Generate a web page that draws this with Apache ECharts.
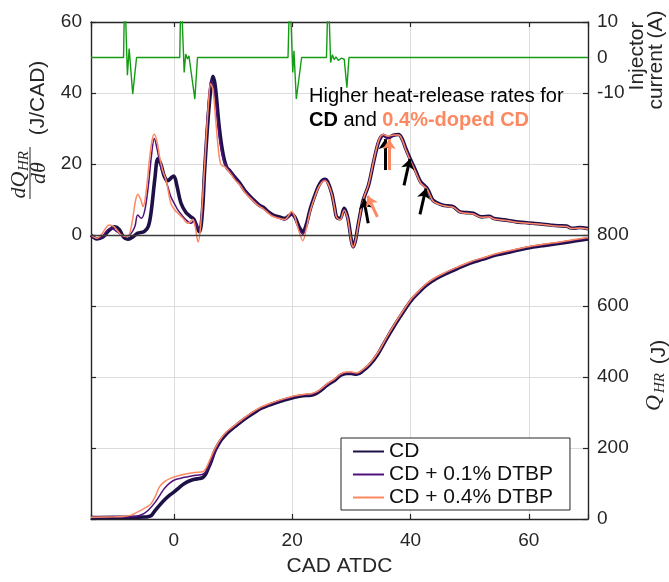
<!DOCTYPE html>
<html>
<head>
<meta charset="utf-8">
<title>Heat release and injector current</title>
<script src="https://cdn.jsdelivr.net/npm/echarts@6/dist/echarts.min.js"></script>
<style>
  html, body { margin: 0; padding: 0; background: #fff; }
  #chart { width: 669px; height: 582px; }
</style>
</head>
<body>
<div id="chart"></div>
<script>
// ---- Heat-release rate dQ/dθ (J/CAD) vs crank angle ----
const cadHrrCD = [-14, -13, -12, -11, -10, -9.2, -8.5, -7.8, -7, -6.1, -5, -4.3, -3.8, -3.2, -2.7, -2.2, -1.6, -1.0, -0.4, 0.0, 0.5, 1.2, 2.0, 2.8, 3.4, 4.3, 4.8, 5.2, 5.8, 6.3, 6.6, 7.0, 7.7, 8.3, 8.9, 9.5, 10.3, 11.2, 12.0, 13.4, 14.5, 15.1, 16.0, 16.8, 18.0, 18.8, 19.5, 19.9, 20.4, 20.7, 21.2, 21.8, 22.4, 23.0, 23.8, 24.4, 25.0, 25.5, 26.0, 26.7, 27.2, 27.5, 28.1, 28.8, 29.3, 29.6, 30.0, 30.3, 30.7, 31.2, 32.0, 32.9, 33.7, 34.5, 35.0, 35.4, 36.2, 37.1, 38.0, 38.6, 39.1, 39.9, 40.5, 41.0, 41.7, 42.3, 42.8, 43.3, 43.8, 44.6, 45.5, 46.3, 47.2, 48.4, 49.5, 50.6, 52.0, 53.4, 54.0, 55.1, 56.5, 57.9, 59.3, 60.7, 62.0, 63.6, 65.0, 66.4, 67.0, 67.5, 68.5, 70];
const hrrCD = [0, -1.1, -0.6, 1.2, 2.3, 1.5, -0.6, -1.2, -0.6, 0.5, 1.0, 2.5, 7, 16, 21.5, 20, 16.5, 15.3, 16.2, 16.6, 14, 9, 6.5, 5.2, 4.4, 0.9, 6, 18, 33, 42, 44.7, 42, 30, 23, 19.2, 18, 16.3, 14.5, 12.5, 10, 8.3, 7.8, 6.5, 5.6, 5.0, 4.7, 5.5, 6.0, 5.2, 4.2, 2.2, 0.9, 3, 7, 11, 13.6, 15.2, 15.7, 15, 11.7, 7.5, 5.1, 4.6, 7.5, 5.5, 3, -1.5, -3.3, -1.5, 3.3, 9.8, 14, 20.1, 25.7, 27.6, 28.1, 27.4, 28.1, 28.3, 27, 24.8, 21.6, 19.5, 17.6, 15, 14, 13.2, 11.5, 9.8, 9, 8.4, 8.2, 8, 6.5, 6.3, 6.1, 5.1, 5.3, 4.7, 4.4, 4.1, 3.7, 3.5, 3.3, 3.1, 2.8, 2.6, 2.5, 2.0, 1.9, 2.1, 1.8];

const cadHrrD01 = [-14, -13, -12, -11.2, -10.6, -9.5, -8.3, -7.3, -6.6, -6.1, -5.5, -4.9, -4.3, -3.8, -3.3, -2.8, -2.2, -1.6, -1.0, -0.5, 0.2, 0.7, 1.4, 2.1, 2.9, 3.4, 3.8, 4.3, 4.8, 5.3, 5.8, 6.3, 6.7, 7.2, 7.8, 8.4, 9.0, 9.6, 10.3, 11.2, 12.0, 13.4, 14.5, 15.1, 16.0, 16.8, 18.0, 18.8, 19.5, 19.9, 20.4, 20.7, 21.2, 21.8, 22.4, 23.0, 23.8, 24.4, 25.0, 25.5, 26.0, 26.7, 27.2, 27.5, 28.1, 28.8, 29.3, 29.6, 30.0, 30.3, 30.7, 31.2, 32.0, 32.9, 33.7, 34.5, 35.0, 35.4, 36.2, 37.1, 38.0, 38.6, 39.1, 39.9, 40.5, 41.0, 41.7, 42.3, 42.8, 43.3, 43.8, 44.6, 45.5, 46.3, 47.2, 48.4, 49.5, 50.6, 52.0, 53.4, 54.0, 55.1, 56.5, 57.9, 59.3, 60.7, 62.0, 63.6, 65.0, 66.4, 67.0, 67.5, 68.5, 70];
const hrrD01 = [0, -1, -0.3, 1.5, 1.9, 0.8, -0.5, 0.3, 2.3, 5.6, 4.7, 7, 14, 22, 27.2, 24, 19, 16.4, 13.5, 10.8, 8.5, 7, 5.5, 4.2, 3.3, 4.0, 3.0, 1.4, 8, 22, 37, 43.5, 42, 35, 26, 21, 19, 17.8, 16.2, 14.3, 12.4, 9.9, 8.2, 7.6, 6.3, 5.3, 4.6, 4.2, 5.4, 6.1, 5.0, 3.8, 1.6, 0.2, 2.6, 6.6, 10.8, 13.4, 15.0, 15.6, 14.8, 11.4, 7.2, 5.0, 4.4, 7.2, 5.3, 2.8, -1.8, -3.6, -1.8, 3.0, 9.6, 13.9, 20.0, 25.6, 27.6, 28.0, 27.2, 28.0, 28.2, 26.9, 24.6, 21.4, 19.3, 17.4, 14.8, 13.9, 13.0, 11.3, 9.6, 8.9, 8.3, 8.1, 7.9, 6.4, 6.2, 6.0, 5.0, 5.2, 4.6, 4.3, 4.0, 3.6, 3.4, 3.2, 3.0, 2.7, 2.5, 2.4, 1.9, 1.8, 2.0, 1.7];

const cadHrrD04 = [-14, -13, -12.2, -11.4, -10.9, -10.2, -9.5, -8.9, -7.8, -7.3, -6.9, -6.5, -6.1, -5.6, -5.2, -4.7, -4.2, -3.7, -3.3, -2.8, -2.4, -1.9, -1.3, -0.9, -0.5, 0.1, 0.7, 1.5, 2.4, 2.9, 3.2, 3.6, 4.1, 4.5, 5.0, 5.5, 5.9, 6.2, 6.6, 7.1, 7.6, 8.0, 8.6, 9.1, 9.7, 10.3, 11.2, 12.0, 13.4, 14.5, 15.1, 16.0, 16.8, 18.0, 18.8, 19.5, 19.9, 20.4, 20.7, 21.2, 21.8, 22.4, 23.0, 23.8, 24.4, 25.0, 25.5, 26.0, 26.7, 27.2, 27.5, 28.1, 28.8, 29.3, 29.6, 30.0, 30.3, 30.7, 31.2, 32.0, 32.9, 33.7, 34.5, 35.0, 35.4, 36.2, 37.1, 38.0, 38.6, 39.1, 39.9, 40.5, 41.0, 41.7, 42.3, 42.8, 43.3, 43.8, 44.6, 45.5, 46.3, 47.2, 48.4, 49.5, 50.6, 52.0, 53.4, 54.0, 55.1, 56.5, 57.9, 59.3, 60.7, 62.0, 63.6, 65.0, 66.4, 67.0, 67.5, 68.5, 70];
const hrrD04 = [0, -0.9, 0.2, 2.2, 2.8, 2.4, 1.2, 0, -0.4, 1.5, 5.1, 9.5, 11.5, 10, 8, 12, 20, 26.5, 28.4, 26, 22, 18.3, 15.4, 12, 8.9, 7.2, 6.1, 4.8, 3.3, 4.0, 4.4, 2.5, -2, 2, 14, 28, 38, 42.6, 41, 32, 23, 19.7, 19.3, 18.3, 17.0, 15.6, 14.0, 12.0, 9.6, 8.0, 7.4, 6.1, 5.2, 4.6, 4.4, 5.8, 6.6, 5.4, 3.6, 0.8, -1.6, 1.8, 6.4, 10.6, 13.2, 14.8, 15.3, 14.6, 11.5, 7.3, 5.0, 4.3, 7.0, 5.2, 2.6, -1.9, -3.4, -1.6, 3.2, 9.9, 14.2, 20.4, 26.0, 27.9, 28.3, 27.8, 28.2, 28.2, 26.8, 24.5, 21.2, 19.1, 17.2, 14.7, 13.7, 12.9, 11.2, 9.6, 8.8, 8.3, 8.0, 7.8, 6.4, 6.1, 5.9, 5.0, 5.1, 4.6, 4.3, 4.0, 3.6, 3.4, 3.2, 3.0, 2.7, 2.5, 2.4, 1.9, 1.8, 2.0, 1.7];

// ---- Cumulative heat release Q_HR (J) ----
const cadQCD = [-14, -10, -7, -5, -4.4, -3.8, -3.3, -2.5, -1.6, -0.7, 0.1, 1.0, 1.8, 2.6, 3.5, 4.3, 4.9, 5.4, 5.7, 6.3, 6.9, 7.5, 8.0, 9.0, 10.3, 11.5, 12.5, 13.7, 14.8, 16.0, 17.0, 18.7, 20.4, 21.8, 23.2, 24.1, 24.9, 26.0, 27.2, 28.2, 29.2, 30.0, 30.9, 32.0, 33.1, 34.5, 36.0, 37.4, 38.8, 40.2, 41.5, 42.7, 44.3, 46.1, 48.0, 50.0, 52.3, 54.6, 57.0, 59.6, 62.4, 65.3, 67.7, 70];
const qCD = [4, 5, 5, 5.5, 6.5, 10, 20.6, 37, 53.5, 67, 77, 90, 100, 107, 112, 114, 117, 127, 138, 162, 190, 209, 222.5, 242, 260, 276, 288, 301, 312, 320, 326, 335, 343, 347, 349, 354, 363, 378, 391, 405, 410, 410, 407.6, 418, 434, 465, 509, 548, 584, 617, 640, 659, 677, 692, 706, 720, 732, 744, 753, 762.5, 770, 776.5, 783, 789];

const cadQD01 = [-14, -10, -7.2, -6, -5, -4.2, -3.3, -2.4, -1.6, -0.7, 0.1, 1.2, 2.4, 3.7, 4.9, 5.5, 6.0, 6.6, 7.2, 8.0, 9.0, 10.3, 11.5, 12.5, 13.7, 14.8, 16.0, 17.0, 18.7, 20.4, 21.8, 23.2, 24.1, 24.9, 26.0, 27.2, 28.2, 29.2, 30.0, 30.9, 32.0, 33.1, 34.5, 36.0, 37.4, 38.8, 40.2, 41.5, 42.7, 44.3, 46.1, 48.0, 50.0, 52.3, 54.6, 57.0, 59.6, 62.4, 65.3, 67.7, 70];
const qD01 = [4, 5, 6, 9, 16, 27, 44, 66, 86, 101, 110, 115, 119, 123, 126, 135, 150, 175, 198, 225, 244, 262, 278, 290, 303, 314, 322, 328, 337, 345, 349, 351, 356, 365, 380, 393, 407, 412, 412, 409.6, 420, 436, 467, 511, 550, 586, 619, 642, 661, 679, 694, 708, 722, 734, 746, 755, 764.5, 772, 778.5, 785, 791];

const cadQD04 = [-14, -10, -8.5, -7.2, -6.1, -5.0, -4.3, -3.8, -3.1, -2.4, -1.5, -0.5, 0.6, 1.8, 3.5, 4.9, 5.5, 6.3, 7.0, 8.0, 9.0, 10.3, 11.5, 12.5, 13.7, 14.8, 16.0, 17.0, 18.7, 20.4, 21.8, 23.2, 24.1, 24.9, 26.0, 27.2, 28.2, 29.2, 30.0, 30.9, 32.0, 33.1, 34.5, 36.0, 37.4, 38.8, 40.2, 41.5, 42.7, 44.3, 46.1, 48.0, 50.0, 52.3, 54.6, 57.0, 59.6, 62.4, 65.3, 67.7, 70];
const qD04 = [5, 6, 7, 11, 20, 30, 37, 44, 65, 91, 106, 115, 121, 126, 131, 133, 145, 175, 200, 228, 247, 264, 280, 292, 305, 316, 324, 330, 339, 347, 351, 353, 358, 367, 382, 395, 409, 414, 414, 411.6, 422, 438, 469, 513, 552, 588, 621, 644, 663, 681, 696, 710, 724, 736, 748, 757, 766.5, 774, 780.5, 787, 793];

// ---- Injector current (A) ----
const cadInj = [-14, -8.5, -8.3, -7.85, -7.55, -6.95, -6.3, 1.0, 1.2, 1.75, 2.0, 2.3, 2.55, 3.55, 4.0, 19.3, 19.6, 20.1, 20.3, 20.7, 21.6, 25.8, 26.1, 26.5, 26.8, 27.1, 27.4, 27.8, 28.3, 28.8, 29.25, 29.6, 70];
const injA = [0, 0, 20, -5, 2.5, -10.3, 0, 0, 20, -4.2, 1, -0.4, 0.5, -11.7, 0, 0, 20, -4.2, 1.9, -11.7, 0, 0, 20, -1.4, 0.8, -0.6, 0.2, -0.8, -0.2, -0.5, -8.5, 0, 0];

// ---- Arrow annotations (tail, head) in CAD / J/CAD ----
const arrowsBlack = [[[32.85, 3.3], [32.1, 10.2]], [[35.7, 18.3], [35.7, 27.0]], [[38.9, 14.0], [39.9, 21.4]], [[41.6, 5.8], [42.6, 13.1]]];
const arrowsSalmon = [[[34.4, 5.1], [32.75, 11.0]], [[36.4, 18.3], [36.4, 27.0]]];

const seriesNames = ['CD', 'CD + 0.1% DTBP', 'CD + 0.4% DTBP'];
const colors = ['#1d1147', '#51127c', '#fc8961'];
const widths = [3.6, 1.5, 1.5];
const green = '#149c14';
const ink = '#262626';
const sans = '"Liberation Sans", Arial, Helvetica, sans-serif';
const serif = '"Liberation Serif", "Times New Roman", serif';

const pts = (xs, ys) => xs.map((x, i) => [x, ys[i]]);

const hrrSets = [[cadHrrCD, hrrCD], [cadHrrD01, hrrD01], [cadHrrD04, hrrD04]];
const qSets = [[cadQCD, qCD], [cadQD01, qD01], [cadQD04, qD04]];

const lineSeries = (name, data, yAxisIndex, i, extra) => Object.assign({
  name, type: 'line', xAxisIndex: 0, yAxisIndex, data,
  symbol: 'none', smooth: 0.35, clip: true,
  lineStyle: { color: colors[i], width: widths[i] },
  itemStyle: { color: colors[i] },
  emphasis: { disabled: true }
}, extra || {});

const series = [];
hrrSets.forEach((s, i) => {
  const extra = i === 0 ? {
    markLine: {
      silent: true, symbol: 'none', label: { show: false },
      lineStyle: { color: '#3c3c3c', width: 1.3, type: 'solid' },
      data: [{ yAxis: 0 }]
    }
  } : null;
  series.push(lineSeries(seriesNames[i], pts(s[0], s[1]), 0, i, extra));
});
qSets.forEach((s, i) => series.push(lineSeries(seriesNames[i], pts(s[0], s[1]), 1, i)));

series.push({
  name: 'Injector current', type: 'line', xAxisIndex: 0, yAxisIndex: 2,
  data: pts(cadInj, injA), symbol: 'none', clip: true,
  lineStyle: { color: green, width: 1.4 }, itemStyle: { color: green },
  emphasis: { disabled: true }
});

const arrowSeries = (name, list, color) => ({
  name, type: 'line', xAxisIndex: 0, yAxisIndex: 0, data: [],
  markLine: {
    silent: true, symbol: ['none', 'arrow'], symbolSize: 10,
    label: { show: false },
    lineStyle: { color, width: 3, type: 'solid' },
    itemStyle: { color },
    data: list.map(a => [{ coord: a[0] }, { coord: a[1] }])
  },
  z: 5
});
series.push(arrowSeries('arrows-black', arrowsBlack, '#000'));
series.push(arrowSeries('arrows-salmon', arrowsSalmon, colors[2]));

const axisLineStyle = { onZero: false, lineStyle: { color: ink, width: 1.4 } };
const tickIn = { show: true, inside: true, length: 5, lineStyle: { color: ink, width: 1.2 } };
const gridLine = { show: true, lineStyle: { color: '#dcdcdc', width: 1 } };

const option = {
  animation: false,
  backgroundColor: '#fff',
  grid: { left: 91, right: 81, top: 22, bottom: 63 },
  legend: {
    data: seriesNames,
    orient: 'vertical',
    left: 341, top: 438,
    backgroundColor: '#fff',
    borderColor: ink, borderWidth: 1, borderRadius: 0,
    padding: [3, 17, 2, 11],
    itemGap: 2, itemWidth: 31, itemHeight: 14,
    selectedMode: false,
    itemStyle: { opacity: 0 },
    textStyle: { fontFamily: sans, fontSize: 21, color: '#111', lineHeight: 20 }
  },
  xAxis: [
    {
      type: 'value', position: 'bottom', min: -14, max: 70, splitNumber: 4,
      axisLine: axisLineStyle, axisTick: tickIn, splitLine: gridLine,
      axisLabel: {
        fontFamily: sans, fontSize: 19, color: ink, margin: 12,
        formatter: v => (v % 20 === 0 ? String(v) : '')
      },
      name: 'CAD ATDC', nameLocation: 'middle', nameGap: 37,
      nameTextStyle: { fontFamily: sans, fontSize: 21, color: ink }
    },
    {
      type: 'value', position: 'top', min: -14, max: 70, splitNumber: 4,
      axisLine: axisLineStyle, axisTick: tickIn, splitLine: { show: false },
      axisLabel: { show: false }
    }
  ],
  yAxis: [
    {
      type: 'value', position: 'left', min: -80, max: 60, interval: 20,
      axisLine: axisLineStyle, axisTick: tickIn, splitLine: gridLine,
      axisLabel: {
        fontFamily: sans, fontSize: 19, color: ink, margin: 9,
        formatter: v => (v >= 0 ? String(v) : '')
      }
    },
    {
      type: 'value', position: 'right', min: 0, max: 1400, interval: 200,
      axisLine: axisLineStyle, axisTick: tickIn, splitLine: { show: false },
      axisLabel: {
        fontFamily: sans, fontSize: 19, color: ink, margin: 9,
        formatter: v => (v <= 800 ? String(v) : '')
      }
    },
    {
      type: 'value', position: 'right', min: -130, max: 10, interval: 10,
      axisLine: { show: false, onZero: false }, axisTick: { show: false }, splitLine: { show: false },
      axisLabel: {
        fontFamily: sans, fontSize: 19, color: ink, margin: 9,
        formatter: v => (v >= -10 ? String(v) : '')
      }
    }
  ],
  graphic: [
    // left axis title: dQ_HR / dθ (J/CAD)
    { type: 'text', x: 19, y: 185, rotation: Math.PI / 2,
      style: { text: 'dQ', font: 'italic 22px ' + serif, fill: ink, align: 'center', verticalAlign: 'middle' } },
    { type: 'text', x: 24, y: 161, rotation: Math.PI / 2,
      style: { text: 'HR', font: 'italic 15px ' + serif, fill: ink, align: 'center', verticalAlign: 'middle' } },
    { type: 'line', shape: { x1: 30, y1: 147, x2: 30, y2: 199 }, style: { stroke: ink, lineWidth: 1 } },
    { type: 'text', x: 39, y: 173, rotation: Math.PI / 2,
      style: { text: 'dθ', font: 'italic 22px ' + serif, fill: ink, align: 'center', verticalAlign: 'middle' } },
    { type: 'text', x: 38, y: 98, rotation: Math.PI / 2,
      style: { text: '(J/CAD)', font: '21px ' + sans, fill: ink, align: 'center', verticalAlign: 'middle' } },
    // right axis title: Q_HR (J)
    { type: 'text', x: 654, y: 403, rotation: Math.PI / 2,
      style: { text: 'Q', font: 'italic 22px ' + serif, fill: ink, align: 'center', verticalAlign: 'middle' } },
    { type: 'text', x: 660, y: 383, rotation: Math.PI / 2,
      style: { text: 'HR', font: 'italic 15px ' + serif, fill: ink, align: 'center', verticalAlign: 'middle' } },
    { type: 'text', x: 659, y: 352, rotation: Math.PI / 2,
      style: { text: '(J)', font: '21px ' + sans, fill: ink, align: 'center', verticalAlign: 'middle' } },
    // injector axis title
    { type: 'text', x: 637, y: 56, rotation: Math.PI / 2,
      style: { text: 'Injector', font: '21px ' + sans, fill: ink, align: 'center', verticalAlign: 'middle' } },
    { type: 'text', x: 656, y: 60, rotation: Math.PI / 2,
      style: { text: 'current (A)', font: '21px ' + sans, fill: ink, align: 'center', verticalAlign: 'middle' } },
    // annotation
    { type: 'text', left: 309, top: 86, z: 10,
      style: {
        text: '{n|Higher heat-release rates for}\n{b|CD}{n| and }{o|0.4%-doped CD}',
        rich: {
          n: { font: '20px ' + sans, fill: '#000', lineHeight: 24 },
          b: { font: 'bold 20px ' + sans, fill: '#000', lineHeight: 24 },
          o: { font: 'bold 20px ' + sans, fill: colors[2], lineHeight: 24 }
        }
      } }
  ],
  series
};

const chart = echarts.init(document.getElementById('chart'), null, { renderer: 'canvas' });
chart.setOption(option);
</script>
</body>
</html>
